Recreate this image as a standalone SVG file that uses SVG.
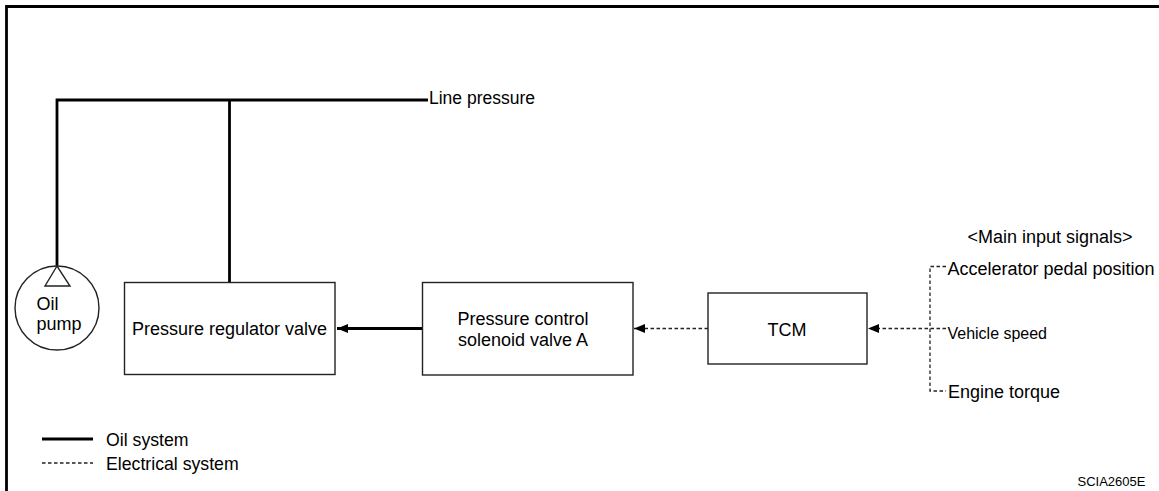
<svg xmlns="http://www.w3.org/2000/svg" width="1159" height="491" viewBox="0 0 1159 491">
<style>
text{font-family:"Liberation Sans",Arial,Helvetica,sans-serif;fill:#000;font-size:18px}
text.s16{font-size:16px}
text.s175{font-size:17.5px}
text.s177{font-size:17.7px}
text.s13{font-size:13px}
.box{fill:#fff;stroke:#222;stroke-width:1.4}
.oil{fill:none;stroke:#000;stroke-width:2.8}
.elec{fill:none;stroke:#222;stroke-width:1.3;stroke-dasharray:3.5 2.5}
.mid{text-anchor:middle}
</style>
<defs>
<marker id="ah" markerWidth="11" markerHeight="9" refX="11" refY="4.5" orient="auto" markerUnits="userSpaceOnUse">
<path d="M0,0 L11,4.5 L0,9 Z" fill="#000"/>
</marker>
</defs>
<rect width="1159" height="491" fill="#fff"/>
<path d="M6.5,491 V6.5 H1159" fill="none" stroke="#000" stroke-width="2.8"/>

<g id="connectors">
<path class="oil" d="M57,266 V100 H428"/>
<path class="oil" d="M229.5,100 V282"/>
<path class="oil" d="M422,328.5 H337" marker-end="url(#ah)"/>
<path class="elec" d="M708,328.5 H634" marker-end="url(#ah)"/>
<path class="elec" d="M946,328.5 H868" marker-end="url(#ah)"/>
<path class="elec" d="M946,266.5 H930 V391 H946"/>
</g>

<g id="line-pressure"><text class="s175" x="429" y="104">Line pressure</text></g>

<g id="oil-pump">
<circle cx="57" cy="308" r="42" fill="#fff" stroke="#222" stroke-width="1.4"/>
<path d="M57,266 L45,286 H70 Z" fill="#fff" stroke="#222" stroke-width="1.4"/>
<text x="36.5" y="310">Oil</text>
<text x="36.5" y="330">pump</text>
</g>

<g id="pressure-regulator-valve">
<rect class="box" x="124.5" y="282.5" width="210.5" height="92"/>
<text class="mid" x="229.5" y="334.5">Pressure regulator valve</text>
</g>

<g id="pressure-control-solenoid">
<rect class="box" x="422.5" y="282.5" width="210.5" height="92.5"/>
<text class="mid" x="523" y="324.5">Pressure control</text>
<text class="mid" x="523" y="346">solenoid valve A</text>
</g>

<g id="tcm">
<rect class="box" x="708" y="293" width="159" height="71"/>
<text class="mid" x="787" y="335.5">TCM</text>
</g>

<g id="inputs">
<text x="967.5" y="243">&lt;Main input signals&gt;</text>
<text x="947.5" y="275">Accelerator pedal position</text>
<text class="s16" x="947.5" y="339" textLength="99.5" lengthAdjust="spacingAndGlyphs">Vehicle speed</text>
<text x="948" y="397.5">Engine torque</text>
</g>

<g id="legend">
<path class="oil" d="M42,439 H93"/>
<path class="elec" d="M42,463 H93"/>
<text class="s177" x="106" y="445.5">Oil system</text>
<text class="s177" x="106" y="470">Electrical system</text>
</g>

<text class="s13" x="1077.5" y="486">SCIA2605E</text>
</svg>
